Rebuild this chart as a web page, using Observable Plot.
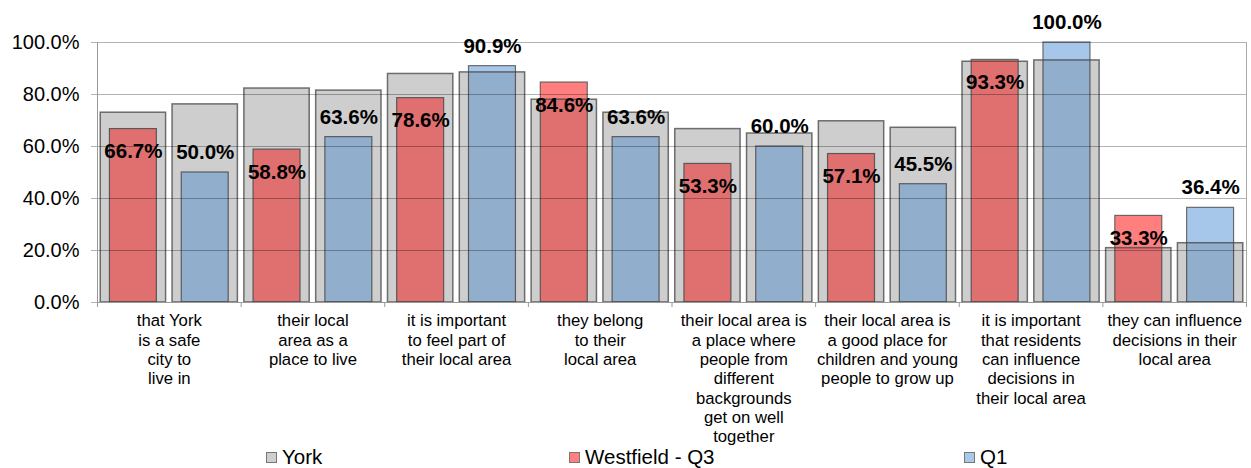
<!DOCTYPE html>
<html><head><meta charset="utf-8">
<script src="https://cdn.jsdelivr.net/npm/d3@7"></script>
<script src="https://cdn.jsdelivr.net/npm/@observablehq/plot@0.6"></script>
<style>
body{margin:0;background:#fff;font-family:"Liberation Sans",Arial,sans-serif;}
#legend{position:relative;width:1251px;height:22px;font-size:20.5px;color:#000;}
.item{position:absolute;top:0;display:flex;align-items:center;height:22px;white-space:nowrap;}
.sw{width:9px;height:9px;border:1px solid #777;margin-right:5px;}
</style></head><body><div id="chart"></div><div id="legend"></div>
<script>
const categories = [
  "that York\nis a safe\ncity to\nlive in",
  "their local\narea as a\nplace to live",
  "it is important\nto feel part of\ntheir local area",
  "they belong\nto their\nlocal area",
  "their local area is\na place where\npeople from\ndifferent\nbackgrounds\nget on well\ntogether",
  "their local area is\na good place for\nchildren and young\npeople to grow up",
  "it is important\nthat residents\ncan influence\ndecisions in\ntheir local area",
  "they can influence\ndecisions in their\nlocal area"
];
const groups = ["Westfield - Q3", "Q1"];
const yorkQ3 = [73.0, 82.3, 87.9, 78.0, 66.7, 69.7, 92.6, 20.9];
const yorkQ1 = [76.2, 81.5, 88.5, 73.0, 65.0, 67.2, 93.1, 22.8];
const westfield = [66.7, 58.8, 78.6, 84.6, 53.3, 57.1, 93.3, 33.3];
const q1 = [50.0, 63.6, 90.9, 63.6, 60.0, 45.5, 100.0, 36.4];
const yTicks = [0, 20, 40, 60, 80, 100];
const legendItems = ["York", "Westfield - Q3", "Q1"];
const legendColors = ["#CFCFCF", "#FF7F7F", "#A9C9EB"];

const rows = categories.flatMap((c, i) => [
  {category: c, group: groups[0], york: yorkQ3[i], value: westfield[i]},
  {category: c, group: groups[1], york: yorkQ1[i], value: q1[i]}
]);
const bounds = categories.map(c => ({category: c}));

const W = 1251, H = 446, mL = 97, mR = 5;
const halfStep = (W - mL - mR) / categories.length / 4;
const font = '"Liberation Sans", Arial, sans-serif';

const chart = Plot.plot({
  width: W, height: H,
  marginLeft: mL, marginRight: mR, marginTop: 42, marginBottom: H - 302,
  style: {fontFamily: font, background: "#fff", overflow: "visible"},
  fx: {domain: categories, padding: 0, round: false, label: null},
  x: {domain: groups, paddingInner: 0.09, paddingOuter: 0.045, round: false, axis: null},
  y: {domain: [0, 100], axis: null},
  color: {domain: groups, range: ["#FF7F7F", "#A7C7EA"]},
  marks: [
    Plot.barY(rows, {fx: "category", x: "group", y: "york", fill: "#EBEBEB"}),
    Plot.barY(rows, {fx: "category", x: "group", y: "value", fill: "group", insetLeft: 9.2, insetRight: 9.2, stroke: "#555", strokeOpacity: 0.85, strokeWidth: 1.2}),
    Plot.barY(rows, {fx: "category", x: "group", y: "york", fill: "#000", fillOpacity: 0.12, stroke: "#444", strokeOpacity: 0.75, strokeWidth: 1.5}),
    Plot.ruleY(yTicks.slice(1), {stroke: "#000", strokeOpacity: 0.3}),
    Plot.ruleY([0], {stroke: "#999"}),
    Plot.ruleX(bounds, {fx: "category", x: () => groups[0], dx: -halfStep, y1: 0, y2: 0, insetBottom: -5, stroke: "#999"}),
    Plot.ruleX(bounds.slice(-1), {fx: "category", x: () => groups[1], dx: halfStep, y1: 0, y2: 0, insetBottom: -5, stroke: "#999"}),
    Plot.ruleX(bounds.slice(0, 1), {fx: "category", x: () => groups[0], dx: -halfStep, y1: 0, y2: 100, stroke: "#999"}),
    Plot.ruleX(bounds.slice(-1), {fx: "category", x: () => groups[1], dx: halfStep, y1: 0, y2: 100, stroke: "#aaa"}),
    Plot.text(rows.filter(d => d.group === groups[0]), {fx: "category", x: "group", y: "value", text: d => d.value.toFixed(1) + "%", dy: 22.5, fontSize: 20.5, fontWeight: "bold", fill: "#000"}),
    Plot.text(rows.filter(d => d.group === groups[1]), {fx: "category", x: "group", y: "value", text: d => d.value.toFixed(1) + "%", dy: -20, fontSize: 20.5, fontWeight: "bold", fill: "#000"}),
    Plot.axisY({ticks: yTicks, tickFormat: d => d.toFixed(1) + "%", tickSize: 6, tickPadding: 12, fontSize: 20, stroke: "#b3b3b3", fill: "#000", label: null}),
    Plot.axisFx({anchor: "bottom", tickSize: 0, tickPadding: 10, fontSize: 16.7, lineHeight: 1.16, label: null, fill: "#000"})
  ]
});
document.getElementById("chart").appendChild(chart);

const legend = document.getElementById("legend");
const legendX = [266, 569, 964];
legendItems.forEach((name, i) => {
  const it = document.createElement("div");
  it.className = "item";
  it.style.left = legendX[i] + "px";
  const sw = document.createElement("span");
  sw.className = "sw";
  sw.style.background = legendColors[i];
  const tx = document.createElement("span");
  tx.textContent = name;
  it.appendChild(sw); it.appendChild(tx);
  legend.appendChild(it);
});
</script></body></html>
